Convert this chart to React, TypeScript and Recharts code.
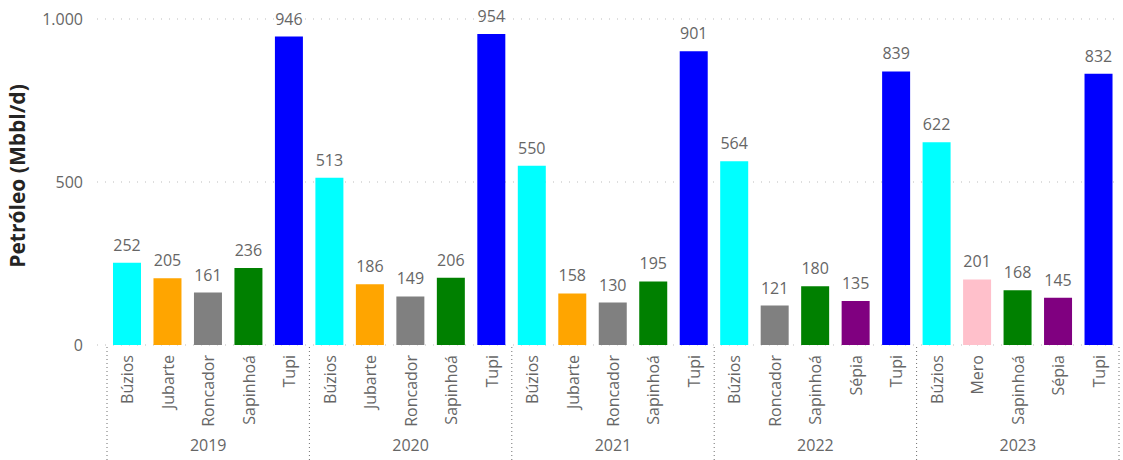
import { BarChart, Bar, XAxis, YAxis, CartesianGrid, Cell, LabelList } from "recharts";

const years = ["2019", "2020", "2021", "2022", "2023"];

const fields2019 = ["Búzios", "Jubarte", "Roncador", "Sapinhoá", "Tupi"];
const values2019 = [252, 205, 161, 236, 946];
const fields2020 = ["Búzios", "Jubarte", "Roncador", "Sapinhoá", "Tupi"];
const values2020 = [513, 186, 149, 206, 954];
const fields2021 = ["Búzios", "Jubarte", "Roncador", "Sapinhoá", "Tupi"];
const values2021 = [550, 158, 130, 195, 901];
const fields2022 = ["Búzios", "Roncador", "Sapinhoá", "Sépia", "Tupi"];
const values2022 = [564, 121, 180, 135, 839];
const fields2023 = ["Búzios", "Mero", "Sapinhoá", "Sépia", "Tupi"];
const values2023 = [622, 201, 168, 145, 832];

const yTicks = [0, 500, 1000];

const fieldColors: Record<string, string> = {
  Búzios: "#00FFFF",
  Jubarte: "#FFA500",
  Roncador: "#808080",
  Sapinhoá: "#008000",
  Tupi: "#0000FF",
  Sépia: "#800080",
  Mero: "#FFC0CB",
};

const groups = [
  { year: years[0], fields: fields2019, values: values2019 },
  { year: years[1], fields: fields2020, values: values2020 },
  { year: years[2], fields: fields2021, values: values2021 },
  { year: years[3], fields: fields2022, values: values2022 },
  { year: years[4], fields: fields2023, values: values2023 },
];

const data = groups.flatMap((g) =>
  g.fields.map((f, i) => ({
    id: g.year + "|" + f,
    year: g.year,
    field: f,
    value: g.values[i],
    pos: i,
    size: g.fields.length,
  }))
);

const FONT = "'Segoe UI', 'Open Sans', sans-serif";
const TEXT = "#666666";
const H = 460;

function fmt(v: number) {
  return String(v).replace(/\B(?=(\d{3})+(?!\d))/g, ".");
}

function CategoryTick(props: any) {
  const { x, y, payload } = props;
  const d = data[payload.index];
  if (!d) return null;
  const half = payload.offset || 20.24;
  const sep = (sx: number) => (
    <line x1={sx} x2={sx} y1={y + 2} y2={H} stroke="#6f6f6f" strokeDasharray="1 3" />
  );
  return (
    <g>
      <text
        x={x}
        y={y + 10}
        transform={`rotate(-90, ${x}, ${y + 10})`}
        textAnchor="end"
        dominantBaseline="central"
        fill={TEXT}
        fontSize={16}
        fontFamily={FONT}
      >
        {d.field}
      </text>
      {d.pos === Math.floor(d.size / 2) && (
        <text x={x} y={y + 106} textAnchor="middle" fill={TEXT} fontSize={16} fontFamily={FONT}>
          {d.year}
        </text>
      )}
      {d.pos === 0 && sep(x - half)}
      {payload.index === data.length - 1 && sep(x + half)}
    </g>
  );
}

function YTitle(props: any) {
  const vb = props.viewBox || { y: 19, height: 326 };
  const cx = 17;
  const cy = vb.y + vb.height / 2 - 6;
  return (
    <text
      x={cx}
      y={cy}
      transform={`rotate(-90, ${cx}, ${cy})`}
      textAnchor="middle"
      dominantBaseline="central"
      fill="#252423"
      fontSize={21}
      fontWeight="bold"
      fontFamily={FONT}
    >
      Petróleo (Mbbl/d)
    </text>
  );
}

export default function App() {
  return (
    <div style={{ position: "absolute", left: 0, top: 0, background: "#fff" }}>
      <BarChart width={1123} height={H} data={data} margin={{ top: 19, right: 4, left: 0, bottom: 0 }}>
        <CartesianGrid vertical={false} stroke="#bdbdbd" strokeDasharray="1 7" />
        <XAxis
          dataKey="id"
          interval={0}
          height={115}
          axisLine={false}
          tickLine={false}
          tickSize={0}
          tickMargin={0}
          padding={{ left: 10, right: 0 }}
          tick={<CategoryTick />}
        />
        <YAxis
          width={97}
          domain={[0, 1000]}
          ticks={yTicks}
          axisLine={false}
          tickLine={false}
          tickSize={0}
          tickMargin={14}
          tickFormatter={fmt}
          tick={{ fill: TEXT, fontSize: 16, fontFamily: FONT }}
          label={<YTitle />}
        />
        <Bar dataKey="value" barSize={28} isAnimationActive={false}>
          {data.map((d) => (
            <Cell key={d.id} fill={fieldColors[d.field]} />
          ))}
          <LabelList dataKey="value" position="top" offset={12} fill={TEXT} fontSize={16} fontFamily={FONT} />
        </Bar>
      </BarChart>
    </div>
  );
}
